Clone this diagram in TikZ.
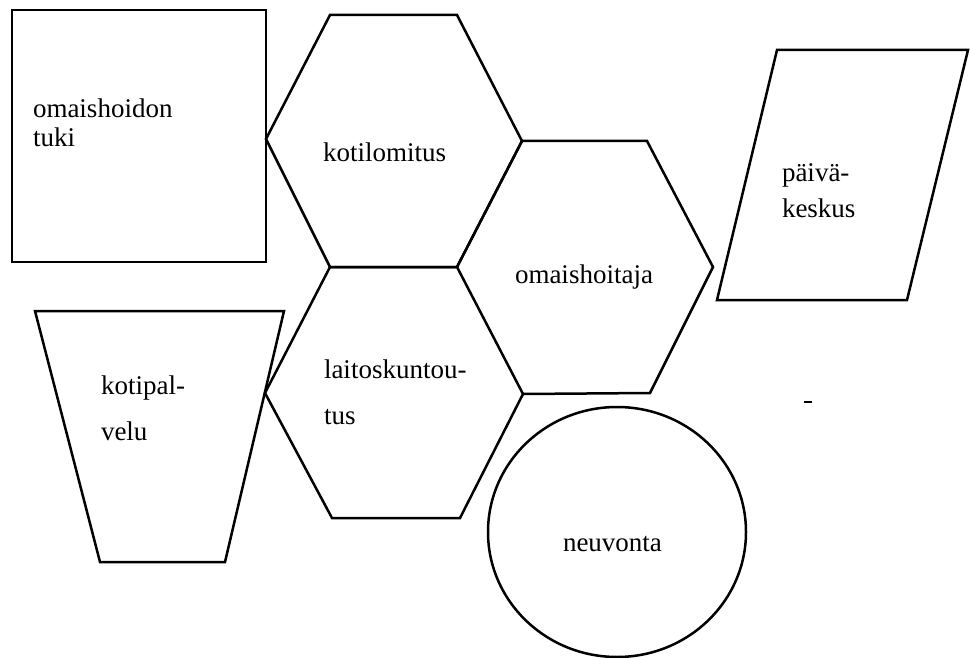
\documentclass[tikz,border=0pt]{standalone}
\usepackage{fontspec}
\setmainfont{Liberation Serif}
\begin{document}
\begin{tikzpicture}[x=1pt,y=-1pt,
  shapeline/.style={draw=black,line width=2.5pt,line join=miter},
  lbl/.style={anchor=base west,inner sep=0pt,outer sep=0pt,font=\fontsize{27}{30}\selectfont}]
\useasboundingbox (0,0) rectangle (970,658);
% square
\draw[shapeline] (12,10) rectangle (266,262);
% hexagon kotilomitus
\draw[shapeline] (266,139) -- (330,15) -- (457,15) -- (522,141) -- (457,267) -- (330,267) -- cycle;
% hexagon laitoskuntoutus
\draw[shapeline] (265,393) -- (330,267) -- (457,267) -- (523,394) -- (460,518) -- (332,518) -- cycle;
% hexagon omaishoitaja
\draw[shapeline] (457,267) -- (522,141) -- (647,141) -- (713,267) -- (650,393) -- (523,394);
% parallelogram
\draw[shapeline] (777,50) -- (968,50) -- (907,300) -- (717,300) -- cycle;
% trapezoid
\draw[shapeline] (35,311) -- (284,311) -- (225,562) -- (100,562) -- cycle;
% circle
\draw[shapeline] (617,532) ellipse [x radius=129, y radius=125];
% small dash
\draw[line width=2pt] (804,402) -- (812,402);
% labels
\node[lbl] (t1a) at (33,118) {omaishoidon};
\node[lbl] (t1b) at (33,147) {tuki};
\node[lbl] (t2) at (323,162) {kotilomitus};
\node[lbl] (t3) at (515,283) {omaishoitaja};
\node[lbl] (t4a) at (782,182) {päivä-};
\node[lbl] (t4b) at (782,218) {keskus};
\node[lbl] (t5a) at (101,394) {kotipal-};
\node[lbl] (t5b) at (101,440) {velu};
\node[lbl] (t6a) at (324,378) {laitoskuntou-};
\node[lbl] (t6b) at (324,424) {tus};
\node[lbl] (t7) at (563,551) {neuvonta};
\end{tikzpicture}
\end{document}
